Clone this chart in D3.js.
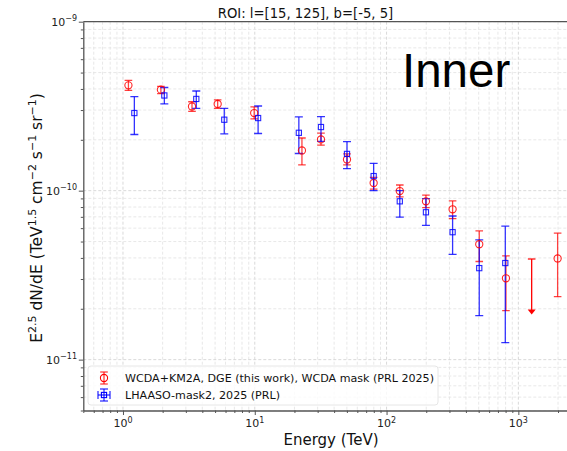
<!DOCTYPE html>
<html><head><meta charset="utf-8">
<script src="https://cdnjs.cloudflare.com/ajax/libs/d3/7.8.5/d3.min.js"></script>
<style>
body{margin:0;background:#fff;}
svg{display:block;font-family:"DejaVu Sans",sans-serif;}
</style></head>
<body><svg id="c" width="567" height="451"></svg>
<script>
// ---- data ----
const redE  = [1.10, 1.94, 3.34, 5.23, 9.9, 22.8, 31.8, 50.1, 79.8, 126, 199, 317, 505, 805, 1986];
const redV  = [4.2e-10, 3.96e-10, 3.15e-10, 3.26e-10, 2.88e-10, 1.73e-10, 2.01e-10, 1.53e-10, 1.11e-10, 9.95e-11, 8.65e-11, 7.76e-11, 4.82e-11, 3.03e-11, 3.97e-11];
const redHi = [4.49e-10, 4.14e-10, 3.36e-10, 3.45e-10, 3.13e-10, 2.05e-10, 2.19e-10, 1.65e-10, 1.2e-10, 1.08e-10, 9.42e-11, 8.69e-11, 5.78e-11, 4.11e-11, 5.6e-11];
const redLo = [3.92e-10, 3.75e-10, 2.95e-10, 3.07e-10, 2.66e-10, 1.42e-10, 1.86e-10, 1.42e-10, 1.02e-10, 9.2e-11, 7.94e-11, 6.84e-11, 3.81e-11, 1.95e-11, 2.36e-11];
const ulE   = [1262];
const ulTop = [3.94e-11];
const ulTip = [1.85e-11];

const blueE  = [1.22, 2.06, 3.6, 5.87, 10.6, 21.6, 31.8, 50.1, 79.8, 126, 199, 317, 505, 796];
const blueV  = [2.88e-10, 3.66e-10, 3.49e-10, 2.63e-10, 2.69e-10, 2.2e-10, 2.38e-10, 1.65e-10, 1.22e-10, 8.65e-11, 7.45e-11, 5.68e-11, 3.48e-11, 3.73e-11];
const blueHi = [3.6e-10, 4.08e-10, 3.89e-10, 3.07e-10, 3.17e-10, 2.73e-10, 2.74e-10, 1.95e-10, 1.45e-10, 1.0e-10, 8.97e-11, 7.08e-11, 5.12e-11, 6.16e-11];
const blueLo = [2.15e-10, 3.26e-10, 3.07e-10, 2.17e-10, 2.18e-10, 1.66e-10, 1.96e-10, 1.35e-10, 1.0e-10, 6.97e-11, 6.24e-11, 4.2e-11, 1.82e-11, 1.26e-11];

const xMajor = [1, 10, 100, 1000];
const xMajorExp = ["0", "1", "2", "3"];
const yMajor = [1e-9, 1e-10, 1e-11];
const yMajorExp = ["\u22129", "\u221210", "\u221211"];

const titleText = "ROI: l=[15, 125], b=[-5, 5]";
const tagText = "Inner";
const xLabel = "Energy (TeV)";
const legendLabels = ["WCDA+KM2A, DGE (this work), WCDA mask (PRL 2025)", "LHAASO-mask2, 2025 (PRL)"];

// ---- layout ----
const svg = d3.select("#c");
const L = 83.3, R = 570.8, T = 21.7, B = 410.5;
const x = d3.scaleLog().domain([0.5, 2500]).range([L, R]);
const y = d3.scaleLog().domain([5e-12, 1e-9]).range([B, T]);

const RED = "#ff0000", BLUE = "#0000ff";

svg.append("defs").append("clipPath").attr("id","clip")
  .append("rect").attr("x",L).attr("y",T).attr("width",R-L).attr("height",B-T);

const xTicksAll = [];
for (let e=-1;e<=3;e++) for (let m=1;m<=9;m++){const v=m*Math.pow(10,e); if(v>=0.5&&v<=2500) xTicksAll.push(v);}
const yTicksAll = [];
for (let e=-12;e<=-10;e++) for (let m=1;m<=9;m++){const v=m*Math.pow(10,e); if(v>=5e-12*0.999&&v<=1e-9*1.001) yTicksAll.push(v);}
yTicksAll.push(1e-9);
const isMajor = v => Math.abs(Math.log10(v) - Math.round(Math.log10(v))) < 1e-6;

// grid
const grid = svg.append("g").attr("clip-path","url(#clip)");
grid.selectAll(".gx").data(xTicksAll).join("line")
  .attr("x1",d=>x(d)).attr("x2",d=>x(d)).attr("y1",T).attr("y2",B)
  .attr("stroke",d=>isMajor(d)?"#cfcfcf":"#e2e2e2").attr("stroke-width",0.8)
  .attr("stroke-dasharray","3,2");
grid.selectAll(".gy").data(yTicksAll).join("line")
  .attr("y1",d=>y(d)).attr("y2",d=>y(d)).attr("x1",L).attr("x2",R)
  .attr("stroke",d=>isMajor(d)?"#cfcfcf":"#e2e2e2").attr("stroke-width",0.8)
  .attr("stroke-dasharray","3,2");

// axes
const xAxis = d3.axisBottom(x).tickValues(xTicksAll).tickFormat("").tickSizeOuter(0);
const gx = svg.append("g").attr("transform",`translate(0,${B})`).call(xAxis);
gx.selectAll(".tick line").attr("y2",d=>isMajor(d)?4.5:2.5);
const yAxis = d3.axisLeft(y).tickValues(yTicksAll).tickFormat("").tickSizeOuter(0);
const gy = svg.append("g").attr("transform",`translate(${L},0)`).call(yAxis);
gy.selectAll(".tick line").attr("x2",d=>isMajor(d)?-4.5:-2.5);
[gx,gy].forEach(g=>{g.select(".domain").attr("stroke","#555").attr("stroke-width",1.3);
  g.selectAll(".tick line").attr("stroke","#555").attr("stroke-width",1);});
svg.append("line").attr("x1",L).attr("x2",R).attr("y1",T).attr("y2",T).attr("stroke","#555").attr("stroke-width",1.3);

// tick labels
xMajor.forEach((v,i)=>{
  const t = svg.append("text").attr("x",x(v)).attr("y",427).attr("text-anchor","middle")
    .attr("font-size",11).attr("fill","#222");
  t.append("tspan").text("10");
  t.append("tspan").attr("dy",-4.5).attr("font-size",8).text(xMajorExp[i]);
});
yMajor.forEach((v,i)=>{
  const t = svg.append("text").attr("x",77).attr("y",y(v)+4).attr("text-anchor","end")
    .attr("font-size",11).attr("fill","#222");
  t.append("tspan").text("10");
  t.append("tspan").attr("dy",-4.5).attr("font-size",8).text(yMajorExp[i]);
});

// title, labels
svg.append("text").attr("x",305.5).attr("y",18).attr("text-anchor","middle").attr("font-size",13.2).attr("fill","#111").text(titleText);
svg.append("text").attr("x",331).attr("y",445).attr("text-anchor","middle").attr("font-size",15).attr("fill","#111").text(xLabel);
const yl = svg.append("text").attr("transform","translate(42,218) rotate(-90)").attr("text-anchor","middle").attr("font-size",15.5).attr("fill","#111");
yl.append("tspan").text("E");
yl.append("tspan").attr("dy",-6).attr("font-size",11).text("2.5");
yl.append("tspan").attr("dy",6).text(" dN/dE (TeV");
yl.append("tspan").attr("dy",-6).attr("font-size",11).text("1.5");
yl.append("tspan").attr("dy",6).text(" cm");
yl.append("tspan").attr("dy",-6).attr("font-size",11).text("\u22122");
yl.append("tspan").attr("dy",6).text(" s");
yl.append("tspan").attr("dy",-6).attr("font-size",11).text("\u22121");
yl.append("tspan").attr("dy",6).text(" sr");
yl.append("tspan").attr("dy",-6).attr("font-size",11).text("\u22121");
yl.append("tspan").attr("dy",6).text(")");

svg.append("text").attr("x",402).attr("y",87).attr("font-family","'Liberation Sans',Arial,sans-serif")
  .attr("font-size",47.5).attr("fill","#000").text(tagText);

// data marks
const plot = svg.append("g").attr("clip-path","url(#clip)");
function errbars(g, E, lo, hi, color, cap, op){
  const d = E.map((e,i)=>({e,lo:lo[i],hi:hi[i]}));
  const gg = g.append("g").attr("stroke",color).attr("stroke-width",1.3).attr("stroke-opacity",op);
  gg.selectAll(".v").data(d).join("line").attr("x1",d=>x(d.e)).attr("x2",d=>x(d.e)).attr("y1",d=>y(d.hi)).attr("y2",d=>y(d.lo));
  gg.selectAll(".ct").data(d).join("line").attr("x1",d=>x(d.e)-cap).attr("x2",d=>x(d.e)+cap).attr("y1",d=>y(d.hi)).attr("y2",d=>y(d.hi));
  gg.selectAll(".cb").data(d).join("line").attr("x1",d=>x(d.e)-cap).attr("x2",d=>x(d.e)+cap).attr("y1",d=>y(d.lo)).attr("y2",d=>y(d.lo));
}
errbars(plot, redE, redLo, redHi, RED, 3.8, 0.75);
errbars(plot, blueE, blueLo, blueHi, BLUE, 4, 0.8);
const ul = ulE.map((e,i)=>({e,top:ulTop[i],tip:ulTip[i]}));
plot.selectAll(".ul").data(ul).join("line").attr("x1",d=>x(d.e)).attr("x2",d=>x(d.e))
  .attr("y1",d=>y(d.top)).attr("y2",d=>y(d.tip)-3).attr("stroke",RED).attr("stroke-width",1.3);
plot.selectAll(".ulc").data(ul).join("line").attr("x1",d=>x(d.e)-3.8).attr("x2",d=>x(d.e)+3.8)
  .attr("y1",d=>y(d.top)).attr("y2",d=>y(d.top)).attr("stroke",RED).attr("stroke-width",1.3).attr("stroke-opacity",0.8);
plot.selectAll(".ula").data(ul).join("path")
  .attr("d",d=>{const cx=x(d.e), ty=y(d.tip); return `M${cx-4},${ty-5}L${cx+4},${ty-5}L${cx},${ty}Z`;})
  .attr("fill",RED);

plot.selectAll(".rc").data(redE.map((e,i)=>({e,v:redV[i]}))).join("circle")
  .attr("cx",d=>x(d.e)).attr("cy",d=>y(d.v)).attr("r",3.6)
  .attr("fill","none").attr("stroke",RED).attr("stroke-width",1.1).attr("stroke-opacity",0.85);
plot.selectAll(".bs").data(blueE.map((e,i)=>({e,v:blueV[i]}))).join("rect")
  .attr("x",d=>x(d.e)-2.6).attr("y",d=>y(d.v)-2.6).attr("width",5.2).attr("height",5.2)
  .attr("fill","none").attr("stroke",BLUE).attr("stroke-width",1.1).attr("stroke-opacity",0.85);

// legend
const lg = svg.append("g");
lg.append("rect").attr("x",88).attr("y",366).attr("width",350).attr("height",39).attr("rx",3)
  .attr("fill","#fff").attr("fill-opacity",0.8).attr("stroke","#e6e6e6");
const ly1 = 378, ly2 = 395, lx = 104;
lg.append("line").attr("x1",lx).attr("x2",lx).attr("y1",ly1-6).attr("y2",ly1+6).attr("stroke",RED).attr("stroke-width",1.3).attr("stroke-opacity",0.75);
[ly1-6,ly1+6].forEach(yy=>lg.append("line").attr("x1",lx-3.8).attr("x2",lx+3.8).attr("y1",yy).attr("y2",yy).attr("stroke",RED).attr("stroke-width",1.3).attr("stroke-opacity",0.75));
lg.append("circle").attr("cx",lx).attr("cy",ly1).attr("r",3.6).attr("fill","none").attr("stroke",RED).attr("stroke-width",1.1);
lg.append("line").attr("x1",lx).attr("x2",lx).attr("y1",ly2-6).attr("y2",ly2+6).attr("stroke",BLUE).attr("stroke-width",1.3).attr("stroke-opacity",0.8);
lg.append("line").attr("x1",lx-6).attr("x2",lx+6).attr("y1",ly2).attr("y2",ly2).attr("stroke",BLUE).attr("stroke-width",1.3).attr("stroke-opacity",0.8);
[ly2-6,ly2+6].forEach(yy=>lg.append("line").attr("x1",lx-4).attr("x2",lx+4).attr("y1",yy).attr("y2",yy).attr("stroke",BLUE).attr("stroke-width",1.3).attr("stroke-opacity",0.8));
[lx-6,lx+6].forEach(xx=>lg.append("line").attr("x1",xx).attr("x2",xx).attr("y1",ly2-4).attr("y2",ly2+4).attr("stroke",BLUE).attr("stroke-width",1.3).attr("stroke-opacity",0.8));
lg.append("rect").attr("x",lx-2.6).attr("y",ly2-2.6).attr("width",5.2).attr("height",5.2).attr("fill","none").attr("stroke",BLUE).attr("stroke-width",1.1);
lg.append("text").attr("x",125).attr("y",ly1+4).attr("font-size",11.1).attr("fill","#111").text(legendLabels[0]);
lg.append("text").attr("x",125).attr("y",ly2+4).attr("font-size",11.1).attr("fill","#111").text(legendLabels[1]);
</script></body></html>
